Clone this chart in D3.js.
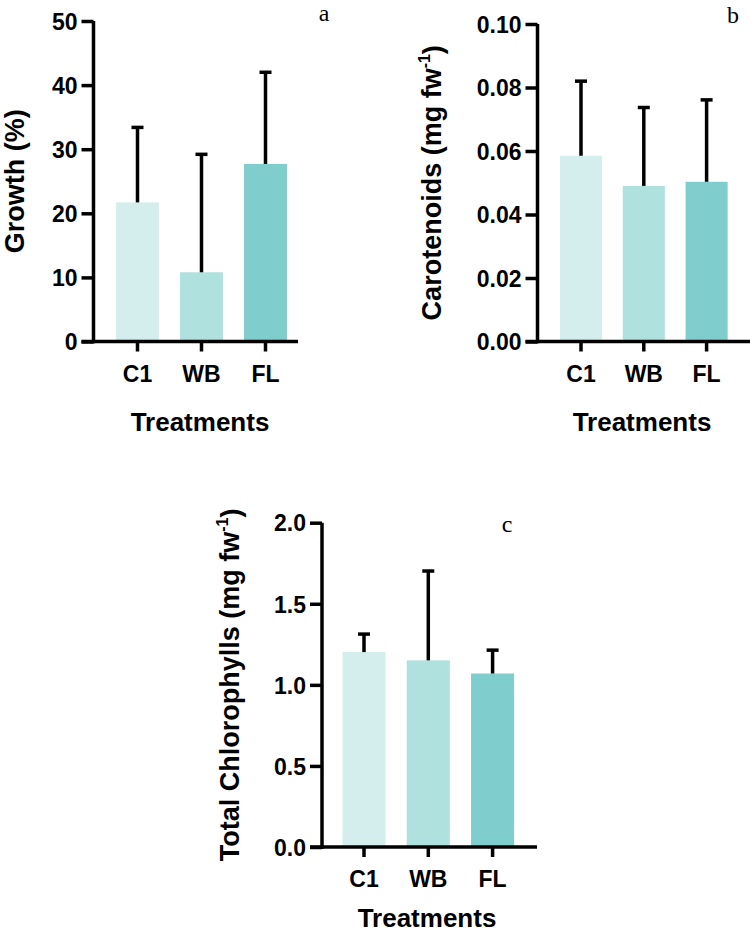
<!DOCTYPE html>
<html>
<head>
<meta charset="utf-8">
<script src="https://cdn.jsdelivr.net/npm/d3@7"></script>
<style>
  html, body { margin: 0; padding: 0; background: #fff; }
  svg { display: block; }
  text { font-family: "Liberation Sans", Arial, sans-serif; font-weight: bold; fill: #000; }
  .panel-letter { font-family: "Liberation Serif", "Times New Roman", serif; font-weight: normal; }
</style>
</head>
<body>
<svg id="chart" width="750" height="938"></svg>
<script>
// ---- data ----
const categories = ["C1", "WB", "FL"];
const barColors = ["#d4eeed", "#afe1df", "#7fcdcc"];

const growthMean = [21.7, 10.8, 27.7];
const growthSD   = [11.7, 18.4, 14.3];
const growthTicks = [0, 10, 20, 30, 40, 50];

const carotMean = [0.0585, 0.049, 0.0503];
const carotSD   = [0.0235, 0.0247, 0.0258];
const carotTicks = [0, 0.02, 0.04, 0.06, 0.08, 0.10];

const chlMean = [1.202, 1.151, 1.070];
const chlSD   = [0.111, 0.551, 0.144];
const chlTicks = [0, 0.5, 1.0, 1.5, 2.0];

const xTitle = "Treatments";

// ---- drawing ----
const svg = d3.select("#chart");
const LW = 3.5;

function drawPanel(p) {
  const g = svg.append("g");
  const y = d3.scaleLinear().domain(p.yDomain).range([p.yBottom, p.yTop]);
  const x = d3.scaleBand().domain(categories)
    .range([p.c0 - p.step / 2, p.c0 + 2.5 * p.step])
    .paddingInner(0.33).paddingOuter(0.165);

  // bars
  const rows = categories.map((c, i) => ({ c, m: p.mean[i], sd: p.sd[i], col: barColors[i] }));
  g.selectAll("rect.bar").data(rows).join("rect")
    .attr("class", "bar")
    .attr("x", d => x(d.c))
    .attr("width", x.bandwidth())
    .attr("y", d => y(d.m))
    .attr("height", d => y(0) - y(d.m))
    .attr("fill", d => d.col);

  // error bars (upper only)
  const cx = d => x(d.c) + x.bandwidth() / 2;
  g.selectAll("line.err").data(rows).join("line")
    .attr("x1", cx).attr("x2", cx)
    .attr("y1", d => y(d.m)).attr("y2", d => y(d.m + d.sd))
    .attr("stroke", "#000").attr("stroke-width", LW);
  g.selectAll("line.cap").data(rows).join("line")
    .attr("x1", d => cx(d) - 6).attr("x2", d => cx(d) + 6)
    .attr("y1", d => y(d.m + d.sd)).attr("y2", d => y(d.m + d.sd))
    .attr("stroke", "#000").attr("stroke-width", LW);

  // y axis
  const yAxis = d3.axisLeft(y).tickValues(p.ticks).tickFormat(p.fmt)
    .tickSize(12).tickSizeOuter(0).tickPadding(4);
  const ya = g.append("g").attr("transform", `translate(${p.yAxisX},0)`).call(yAxis);
  ya.selectAll("path.domain").attr("stroke", "#000").attr("stroke-width", LW)
    .attr("d", `M0,${y(p.yDomain[0]) + LW / 2}V${y(p.yDomain[1])}`);
  ya.selectAll(".tick line").attr("stroke", "#000").attr("stroke-width", LW);
  ya.selectAll(".tick text").style("font-size", "23px").attr("dy", "0.36em");

  // x axis
  const xAxis = d3.axisBottom(x).tickSize(10).tickSizeOuter(0).tickPadding(14);
  const xa = g.append("g").attr("transform", `translate(0,${y(0)})`).call(xAxis);
  xa.selectAll("path.domain").attr("stroke", "#000").attr("stroke-width", LW)
    .attr("d", `M${p.yAxisX - 12},0H${p.xAxisEnd}`);
  xa.selectAll(".tick line").attr("stroke", "#000").attr("stroke-width", LW);
  xa.selectAll(".tick text").style("font-size", "23px");

  // x title
  g.append("text").attr("x", p.xTitleX).attr("y", p.xTitleY)
    .attr("text-anchor", "middle").style("font-size", "26px").text(xTitle);

  // y title (rotated)
  const yMid = (y(p.yDomain[0]) + y(p.yDomain[1])) / 2;
  const t = g.append("text")
    .attr("transform", `translate(${p.yTitleX},${yMid}) rotate(-90)`)
    .attr("text-anchor", "middle").style("font-size", "27px");
  t.append("tspan").text(p.yTitle);
  if (p.yTitleSup) {
    t.append("tspan").text(p.yTitleSup).style("font-size", "16px").attr("dy", "-0.7em");
    t.append("tspan").text(")").attr("dy", "0.45em");
  }

  // panel letter
  g.append("text").attr("class", "panel-letter")
    .attr("x", p.letterX).attr("y", p.letterY).attr("text-anchor", "middle")
    .style("font-size", "24px").text(p.letter);
}

drawPanel({
  mean: growthMean, sd: growthSD, ticks: growthTicks, fmt: d3.format("d"),
  yDomain: [0, 50], yBottom: 341.5, yTop: 21,
  c0: 137.5, step: 64, yAxisX: 93.5, xAxisEnd: 298,
  xTitleX: 200, xTitleY: 431, yTitle: "Growth (%)", yTitleX: 24,
  letter: "a", letterX: 324, letterY: 21
});

drawPanel({
  mean: carotMean, sd: carotSD, ticks: carotTicks, fmt: d3.format(".2f"),
  yDomain: [0, 0.1], yBottom: 341.5, yTop: 24,
  c0: 581, step: 62.8, yAxisX: 537.5, xAxisEnd: 750,
  xTitleX: 642, xTitleY: 431, yTitle: "Carotenoids (mg fw", yTitleSup: "-1", yTitleX: 441,
  letter: "b", letterX: 733, letterY: 23
});

drawPanel({
  mean: chlMean, sd: chlSD, ticks: chlTicks, fmt: d3.format(".1f"),
  yDomain: [0, 2], yBottom: 847, yTop: 522.7,
  c0: 364, step: 64.3, yAxisX: 322, xAxisEnd: 537,
  xTitleX: 427, xTitleY: 927, yTitle: "Total Chlorophylls (mg fw", yTitleSup: "-1", yTitleX: 239,
  letter: "c", letterX: 507, letterY: 532
});
</script>
</body>
</html>
